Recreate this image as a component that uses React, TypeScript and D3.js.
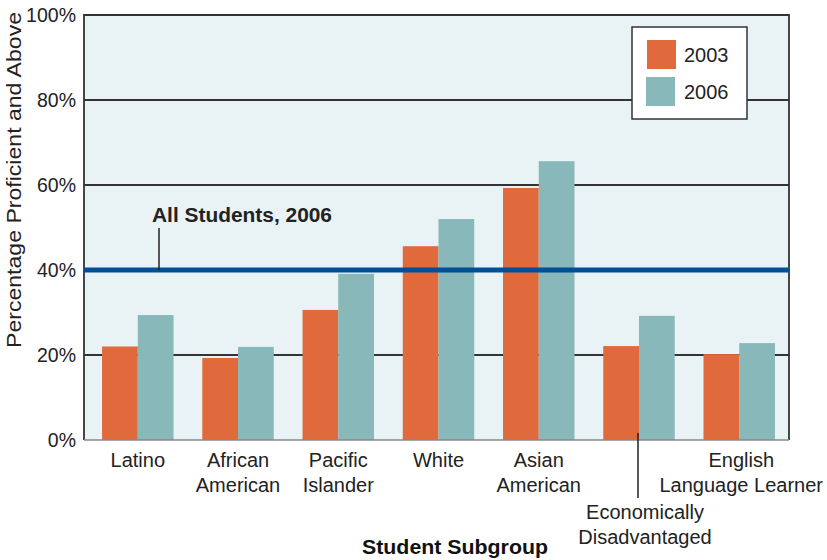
import React from 'react';
import * as d3 from 'd3';

const groups = ['Latino', 'African American', 'Pacific Islander', 'White', 'Asian American', 'Economically Disadvantaged', 'English Language Learner'];
const groupLabels = [['Latino'], ['African', 'American'], ['Pacific', 'Islander'], ['White'], ['Asian', 'American'], ['Economically', 'Disadvantaged'], ['English', 'Language Learner']];
const years = ['2003', '2006'];
const values2003 = [22, 19.3, 30.6, 45.6, 59.3, 22.1, 20.2];
const values2006 = [29.4, 21.9, 39.1, 52, 65.6, 29.2, 22.8];
const allStudents2006 = 40;
const yTicks = [0, 20, 40, 60, 80, 100];

const W = 827;
const H = 560;
const plot = { left: 84, right: 789, top: 15, bottom: 440 };
const colors = ['#e06a3b', '#88b8b9'];
const font = '"Liberation Sans", Arial, sans-serif';

export default function App() {
  const x = d3
    .scaleBand<string>()
    .domain(groups)
    .range([plot.left, plot.right])
    .paddingInner(0.287)
    .paddingOuter(0.16)
    .align(0.5625);
  const xi = d3.scaleBand<string>().domain(years).range([0, x.bandwidth()]);
  const y = d3.scaleLinear().domain([0, 100]).range([plot.bottom, plot.top]);
  const series = [values2003, values2006];

  const econIdx = 5;
  const econX = (x(groups[econIdx]) ?? 0) + x.bandwidth() / 2;
  const labelDx = [0, 0, 0, 0, 0, 6, 2];

  return (
    <svg width={W} height={H} style={{ position: 'absolute', left: 0, top: 0 }} fontFamily={font}>
      <rect x={plot.left} y={plot.top} width={plot.right - plot.left} height={plot.bottom - plot.top} fill="#e9f2f4" />
      {yTicks.filter((t) => t > 0 && t < 100).map((t) => (
        <line key={t} x1={plot.left} x2={plot.right} y1={y(t)} y2={y(t)} stroke="#333" strokeWidth={1.8} />
      ))}
      {series.map((vals, si) =>
        vals.map((v, i) => (
          <rect
            key={`${si}-${i}`}
            x={(x(groups[i]) ?? 0) + (xi(years[si]) ?? 0)}
            y={y(v)}
            width={xi.bandwidth()}
            height={y(0) - y(v)}
            fill={colors[si]}
          />
        ))
      )}
      {/* plot frame */}
      <path
        d={`M${plot.left},${plot.bottom}V${plot.top}H${plot.right}V${plot.bottom}`}
        fill="none"
        stroke="#333"
        strokeWidth={1.8}
      />
      <line x1={plot.left} x2={plot.right} y1={plot.bottom} y2={plot.bottom} stroke="#888" strokeWidth={1.5} />

      {/* all students reference */}
      <line x1={plot.left} x2={plot.right} y1={y(allStudents2006)} y2={y(allStudents2006)} stroke="#004f97" strokeWidth={5} />
      <line x1={159} x2={159} y1={228} y2={y(allStudents2006)} stroke="#222" strokeWidth={1.5} />
      <text x={152} y={222} fontSize={20} fontWeight="bold" fill="#222" textLength={180} lengthAdjust="spacingAndGlyphs">All Students, 2006</text>

      {/* y axis */}
      {yTicks.map((t) => (
        <text key={t} x={76} y={y(t)} dy="0.36em" textAnchor="end" fontSize={19.5} fill="#222">{t}%</text>
      ))}
      <text
        transform={`translate(21,${(12 + 348) / 2}) rotate(-90)`}
        textAnchor="middle"
        fontSize={20}
        fill="#222"
        textLength={336}
        lengthAdjust="spacingAndGlyphs"
      >
        Percentage Proficient and Above
      </text>

      {/* x labels */}
      {groupLabels.map((lines, i) => {
        const cx = (x(groups[i]) ?? 0) + x.bandwidth() / 2 + labelDx[i];
        const y0 = i === econIdx ? 519 : 467;
        return (
          <text key={i} x={cx} y={y0} textAnchor="middle" fontSize={20} fill="#222">
            {lines.map((l, j) => (
              <tspan key={j} x={cx} dy={j === 0 ? 0 : 25}>{l}</tspan>
            ))}
          </text>
        );
      })}
      <line x1={econX - 1} x2={econX - 1} y1={433} y2={498} stroke="#222" strokeWidth={1.5} />
      <text x={455} y={554} textAnchor="middle" fontSize={20} fontWeight="bold" fill="#111" textLength={186} lengthAdjust="spacingAndGlyphs">Student Subgroup</text>

      {/* legend */}
      <rect x={632} y={27} width={115} height={92} fill="#fff" stroke="#333" strokeWidth={1.5} />
      {years.map((yr, i) => (
        <g key={yr}>
          <rect x={647 - i} y={40 + i * 37} width={29} height={29} fill={colors[i]} />
          <text x={684} y={55 + i * 37} dy="0.36em" fontSize={20} fill="#222">{yr}</text>
        </g>
      ))}
    </svg>
  );
}
